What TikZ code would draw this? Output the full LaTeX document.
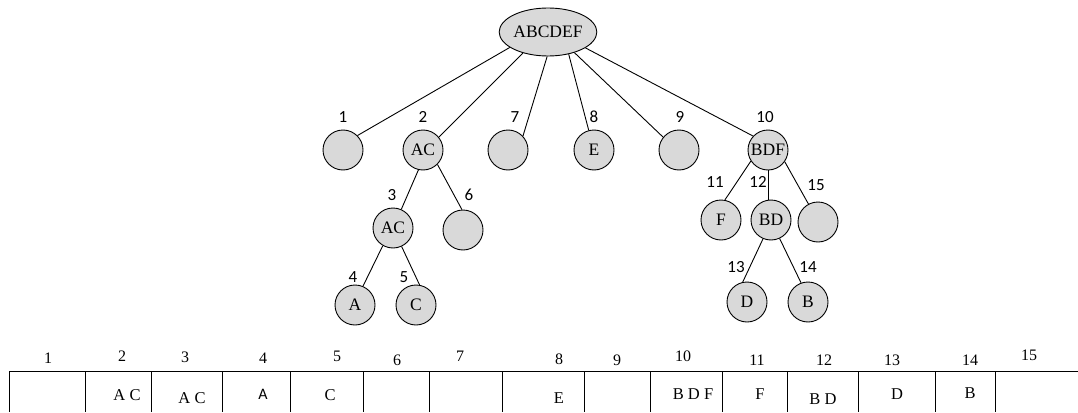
\documentclass[tikz,border=0pt]{standalone}
\usepackage{fontspec}
\setmainfont{Liberation Serif}
\newfontfamily\labfont{Carlito}
\usetikzlibrary{shapes.geometric}
\definecolor{nodefill}{RGB}{217,217,217}
\begin{document}
\begin{tikzpicture}[x=1pt,y=-1pt,
  every node/.style={inner sep=0pt},
  setnode/.style={circle,draw,fill=nodefill,minimum size=40pt,line width=0.9pt,
    font=\fontsize{17.5}{19}\selectfont},
  rootnode/.style={ellipse,draw,fill=nodefill,minimum width=95pt,minimum height=48pt,
    line width=0.9pt,font=\fontsize{17.5}{19}\selectfont},
  idx/.style={font=\labfont\fontsize{17}{19}\selectfont},
  colnum/.style={font=\fontsize{16}{18}\selectfont},
  cell/.style={font=\fontsize{16.5}{18}\selectfont},
  edge/.style={line width=0.9pt},
  grid/.style={line width=0.9pt}]
\useasboundingbox (0,0) rectangle (1078,412);

% search tree
\node[rootnode] (root) at (548,32) {ABCDEF};
\node[setnode] (n1)  at (343,150) {};
\node[setnode] (n2)  at (423,150) {AC};
\node[setnode] (n7)  at (508,150) {};
\node[setnode] (n8)  at (594,150) {E};
\node[setnode] (n9)  at (679,150) {};
\node[setnode] (n10) at (768,150) {BDF};
\node[setnode] (n3)  at (393,228) {AC};
\node[setnode] (n6)  at (463,230) {};
\node[setnode] (n4)  at (355,305) {A};
\node[setnode] (n5)  at (416,305) {C};
\node[setnode] (n11) at (721,220) {F};
\node[setnode] (n12) at (771,220) {BD};
\node[setnode] (n15) at (818,222) {};
\node[setnode] (n13) at (747,302) {D};
\node[setnode] (n14) at (808,302) {B};

\draw[edge] (root.202.5) -- (n1.45);
\draw[edge] (root.220.6) -- (n2.39);
\draw[edge] (root.268) -- (n7.43);
\draw[edge] (root.313) -- (n8.105);
\draw[edge] (root.322) -- (n9.141);
\draw[edge] (root.337.5) -- (n10.137);
\draw[edge] (n2.257) -- (n3.66);
\draw[edge] (n2.315) -- (n6.93);
\draw[edge] (n3.240) -- (n4.67);
\draw[edge] (n3.295) -- (n5.80);
\draw[edge] (n10.213) -- (n11.79);
\draw[edge] (n10.south) -- (n10.south |- n12.north);
\draw[edge] (n10.325.6) -- (n15.118);
\draw[edge] (n12.247) -- (n13.102);
\draw[edge] (n12.295) -- (n14.110);

% node numbers
\node[idx] (l1)  at (343,117) {1};
\node[idx] (l2)  at (423,117) {2};
\node[idx] (l7)  at (515,117) {7};
\node[idx] (l8)  at (594,117) {8};
\node[idx] (l9)  at (680,117) {9};
\node[idx] (l10) at (765,117) {10};
\node[idx] (l3)  at (392,195) {3};
\node[idx] (l6)  at (469,195) {6};
\node[idx] (l4)  at (353,277) {4};
\node[idx] (l5)  at (404,277) {5};
\node[idx] (l11) at (715,182) {11};
\node[idx] (l12) at (758,182) {12};
\node[idx] (l15) at (816,185) {15};
\node[idx] (l13) at (736,267) {13};
\node[idx] (l14) at (808,267) {14};

% array of the nodes
\coordinate (tl) at (9,371);
\coordinate (tr) at (1078,371);
\draw[grid] (tl) -- (tr);
\foreach \x in {9,85,151,222,290,363,429,502,584,650,722,787,858,935,995}
  \draw[grid] (\x,371) -- (\x,412);

\node[colnum] (c1)  at (48,358)   {1};
\node[colnum] (c2)  at (122,356)  {2};
\node[colnum] (c3)  at (185,357)  {3};
\node[colnum] (c4)  at (263,358)  {4};
\node[colnum] (c5)  at (337,356)  {5};
\node[colnum] (c6)  at (397,360)  {6};
\node[colnum] (c7)  at (460,356)  {7};
\node[colnum] (c8)  at (559,359)  {8};
\node[colnum] (c9)  at (617,360)  {9};
\node[colnum] (c10) at (683,356)  {10};
\node[colnum] (c11) at (757,360)  {11};
\node[colnum] (c12) at (824,360)  {12};
\node[colnum] (c13) at (892,360)  {13};
\node[colnum] (c14) at (970,360)  {14};
\node[colnum] (c15) at (1029,355) {15};

\node[cell] (v2)  at (127,395) {A C};
\node[cell] (v3)  at (192,398) {A C};
\node[cell,font=\labfont\fontsize{16}{18}\selectfont] (v4) at (263,394) {A};
\node[cell] (v5)  at (330,395) {C};
\node[cell] (v8)  at (559,398) {E};
\node[cell] (v10) at (693,394) {B D F};
\node[cell] (v11) at (760,394) {F};
\node[cell] (v12) at (823,399) {B D};
\node[cell] (v13) at (897,394) {D};
\node[cell] (v14) at (970,393) {B};
\end{tikzpicture}
\end{document}
